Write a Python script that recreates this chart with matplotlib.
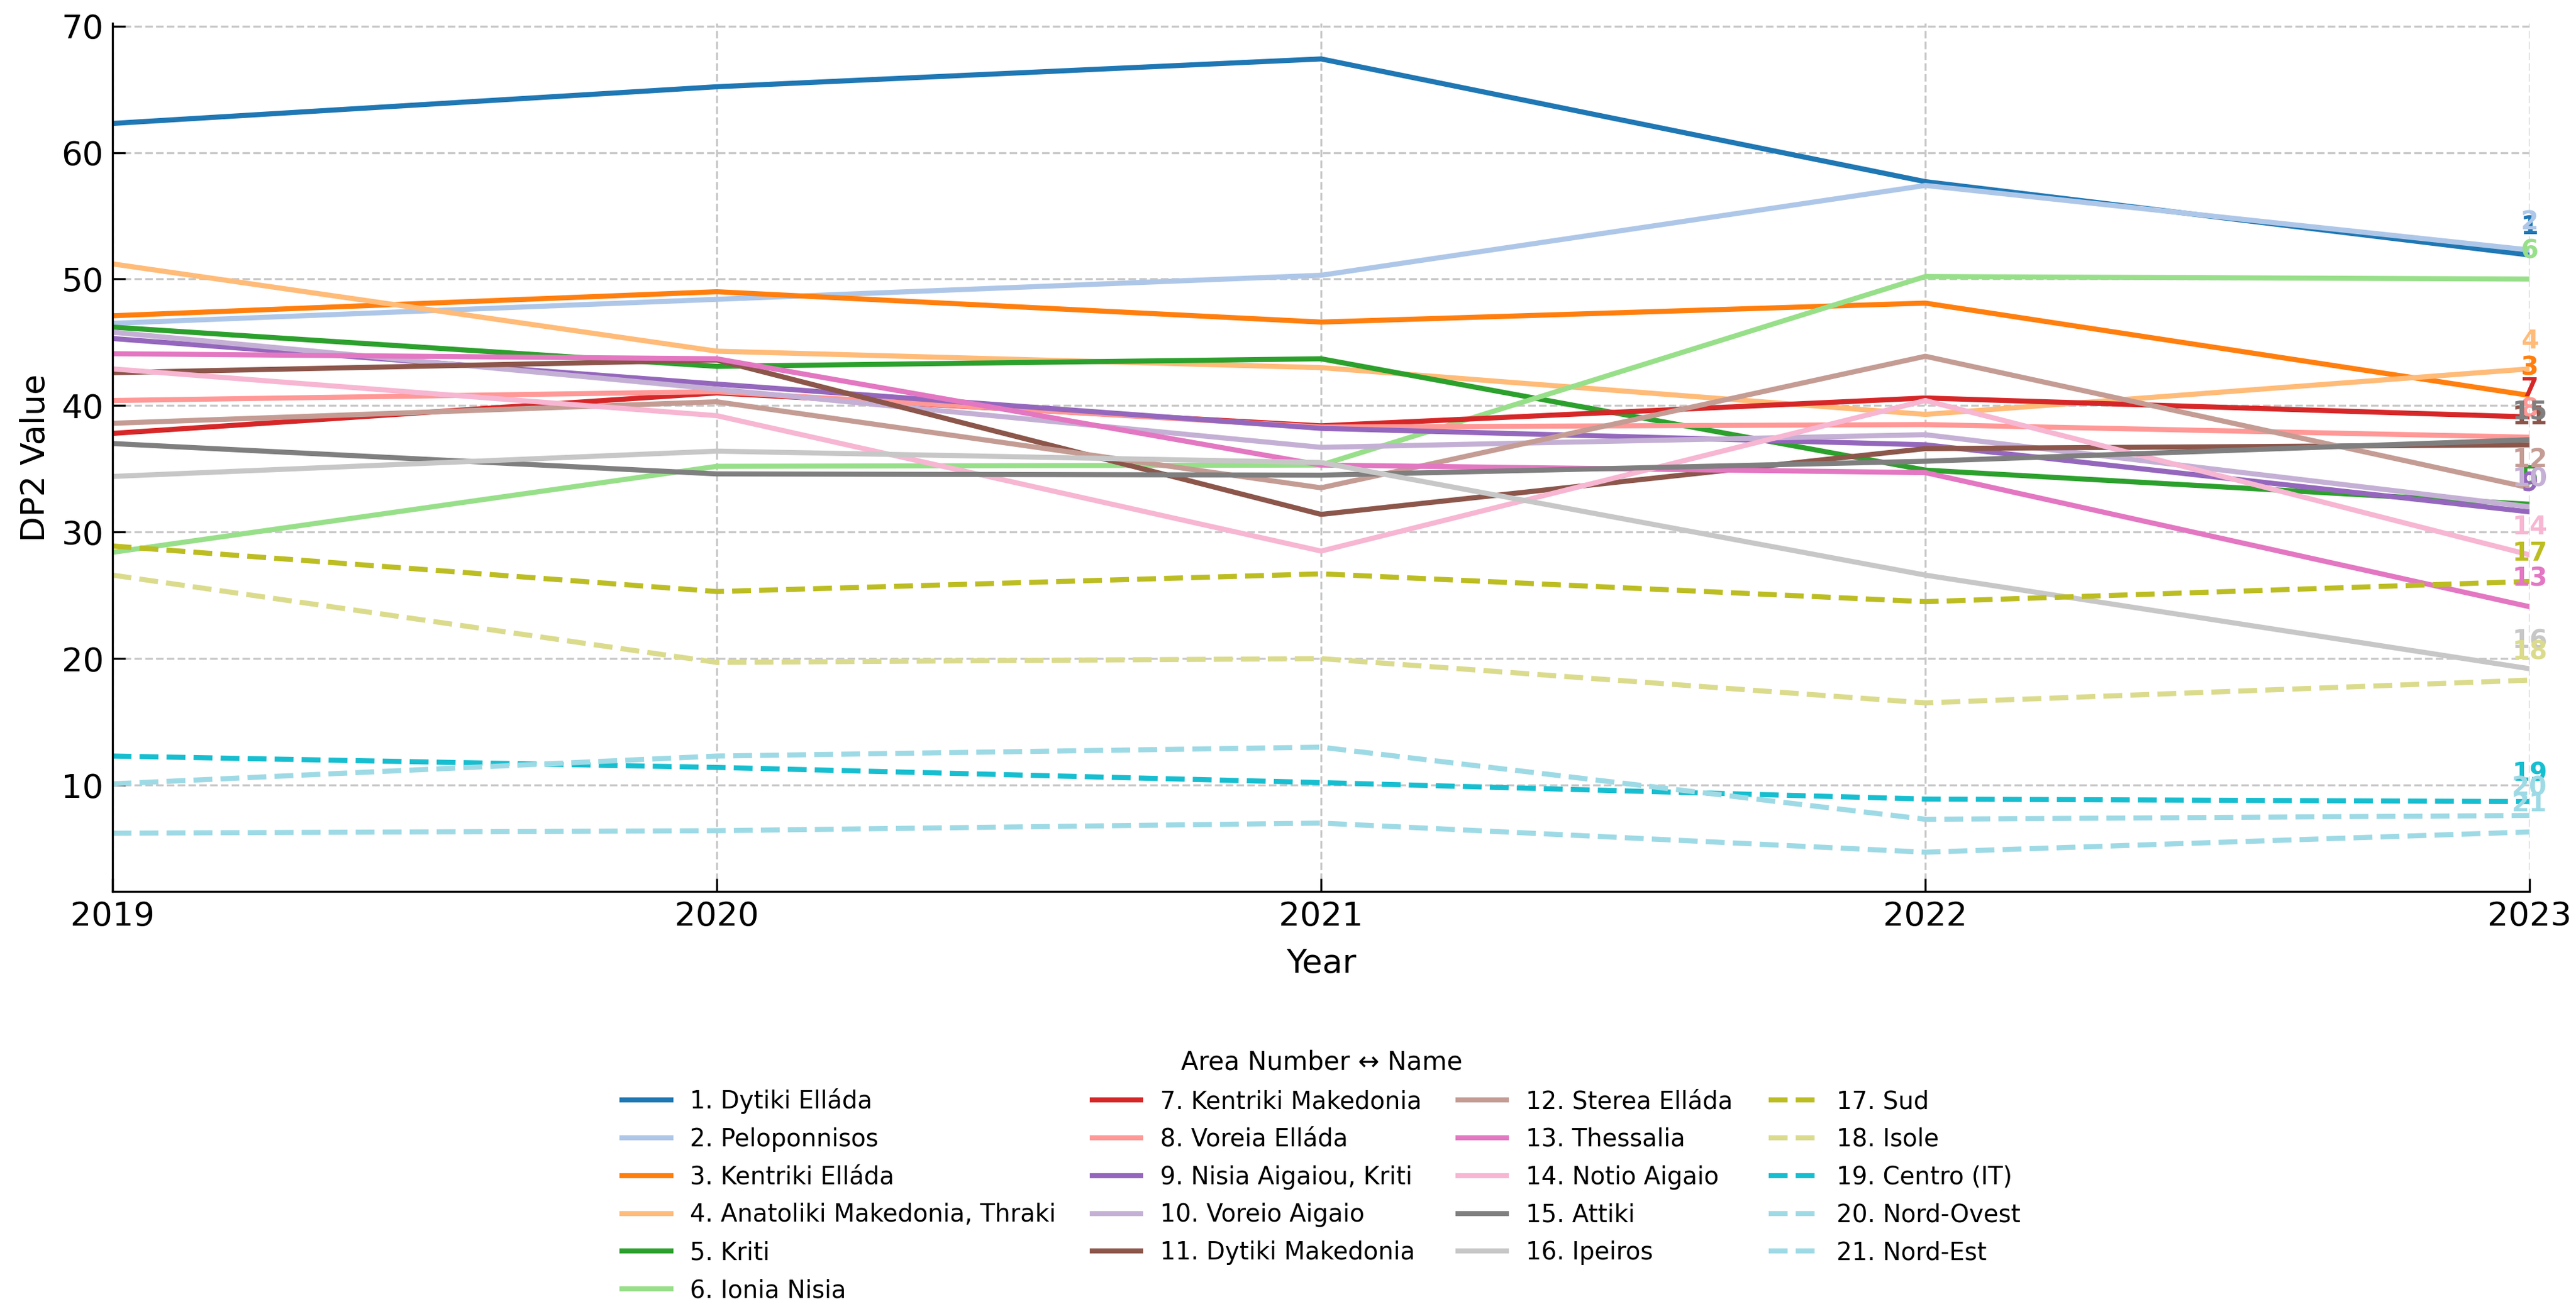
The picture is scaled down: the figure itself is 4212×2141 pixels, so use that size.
import matplotlib
matplotlib.use("Agg")
import matplotlib.pyplot as plt

years = [2019, 2020, 2021, 2022, 2023]

names = [
    "Dytiki Elláda", "Peloponnisos", "Kentriki Elláda",
    "Anatoliki Makedonia, Thraki", "Kriti", "Ionia Nisia",
    "Kentriki Makedonia", "Voreia Elláda", "Nisia Aigaiou, Kriti",
    "Voreio Aigaio", "Dytiki Makedonia", "Sterea Elláda", "Thessalia",
    "Notio Aigaio", "Attiki", "Ipeiros", "Sud", "Isole", "Centro (IT)",
    "Nord-Ovest", "Nord-Est",
]

# DP2 value per area, 2019..2023
dytiki_ellada = [62.3, 65.2, 67.4, 57.7, 51.9]
peloponnisos = [46.5, 48.4, 50.3, 57.4, 52.3]
kentriki_ellada = [47.1, 49.0, 46.6, 48.1, 40.8]
anatoliki_mak = [51.2, 44.3, 43.0, 39.3, 42.9]
kriti = [46.2, 43.1, 43.7, 34.9, 32.2]
ionia_nisia = [28.4, 35.2, 35.3, 50.2, 50.0]
kentriki_mak = [37.8, 41.0, 38.4, 40.6, 39.1]
voreia_ellada = [40.4, 41.1, 38.3, 38.5, 37.5]
nisia_aigaiou = [45.3, 41.7, 38.2, 36.9, 31.6]
voreio_aigaio = [45.8, 41.3, 36.7, 37.7, 32.0]
dytiki_mak = [42.6, 43.6, 31.4, 36.6, 36.9]
sterea_ellada = [38.6, 40.3, 33.5, 43.9, 33.5]
thessalia = [44.1, 43.7, 35.3, 34.7, 24.1]
notio_aigaio = [42.9, 39.2, 28.5, 40.4, 28.2]
attiki = [37.0, 34.6, 34.5, 35.6, 37.3]
ipeiros = [34.4, 36.4, 35.5, 26.6, 19.2]
sud = [28.9, 25.3, 26.7, 24.5, 26.1]
isole = [26.6, 19.7, 20.0, 16.5, 18.3]
centro = [12.3, 11.4, 10.2, 8.9, 8.7]
nord_ovest = [10.1, 12.3, 13.0, 7.3, 7.6]
nord_est = [6.2, 6.4, 7.0, 4.7, 6.3]

series = [dytiki_ellada, peloponnisos, kentriki_ellada, anatoliki_mak, kriti,
          ionia_nisia, kentriki_mak, voreia_ellada, nisia_aigaiou,
          voreio_aigaio, dytiki_mak, sterea_ellada, thessalia, notio_aigaio,
          attiki, ipeiros, sud, isole, centro, nord_ovest, nord_est]

# Italian areas (17-21) are dashed
italian = [False] * 16 + [True] * 5

colors = list(plt.get_cmap("tab20").colors)
colors.append(colors[-1])

fig = plt.figure(figsize=(14.04, 7.137), dpi=300)
ax = fig.add_axes([0.0437, 0.319, 0.9383, 0.663])

for i, vals in enumerate(series):
    ls = "--" if italian[i] else "-"
    ax.plot(years, vals, color=colors[i], lw=2, ls=ls,
            label=f"{i + 1}. {names[i]}")
    ax.annotate(str(i + 1), (years[-1], vals[-1]), xytext=(0, 11),
                textcoords="offset points", ha="center", va="center",
                fontsize=10, fontweight="bold", color=colors[i],
                annotation_clip=False)

ax.set_xlim(2019, 2023)
ax.set_ylim(1.6, 70.2)
ax.set_xticks(years)
ax.set_yticks(range(10, 71, 10))
ax.tick_params(direction="in", labelsize=13, length=5)
ax.set_xlabel("Year", fontsize=13, labelpad=6)
ax.set_ylabel("DP2 Value", fontsize=13)
ax.grid(True, ls="--", lw=0.8, color="#bbbbbb", alpha=0.8)
ax.spines["top"].set_visible(False)
ax.spines["right"].set_visible(False)

fig.legend(loc="upper center", bbox_to_anchor=(0.513, 0.215), ncol=4,
           frameon=False, fontsize=9.5, title="Area Number ↔ Name",
           title_fontsize=10, columnspacing=1.5, labelspacing=0.55)

fig.savefig("out.png", dpi=300)
